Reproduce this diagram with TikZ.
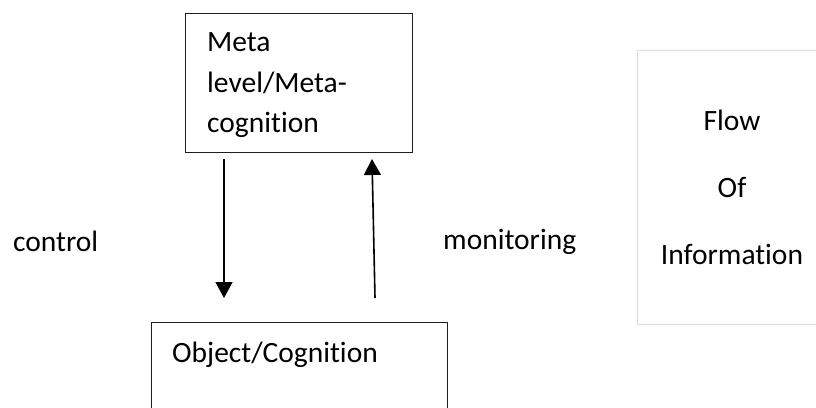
\documentclass[tikz,border=0pt]{standalone}
\usepackage{fontspec}
\setmainfont{Carlito}[Ligatures=NoCommon]
\usetikzlibrary{arrows.meta}
\definecolor{flowedge}{RGB}{212,221,234}
\definecolor{boxedge}{RGB}{30,30,30}
\tikzset{
  box/.style={draw=boxedge, line width=1pt, inner sep=0pt, anchor=north west, fill=none},
  lbl/.style={inner sep=0pt, font=\fontsize{29.5}{35}\selectfont},
  arr/.style={line width=1.6pt, -{Triangle[length=16pt,width=17pt]}}
}
\begin{document}
\begin{tikzpicture}[x=1pt,y=-1pt]
\useasboundingbox (0,0) rectangle (816,407);
\clip (0,0) rectangle (816,407);
% boxes
\node[box, minimum width=227pt, minimum height=139pt] (meta) at (185,13) {};
\node[box, minimum width=296pt, minimum height=130pt] (object) at (151,322) {};
\node[box, draw=flowedge, minimum width=230pt, minimum height=274pt] (flow) at (637,50) {};
% texts
\node[lbl, anchor=base west] (t1) at (207,51) {Meta};
\node[lbl, anchor=base west] (t2) at (207,92) {level/Meta-};
\node[lbl, anchor=base west] (t3) at (207,132) {cognition};
\node[lbl, anchor=base west] (t4) at (172,362) {Object/Cognition};
\node[lbl, anchor=base west] (t5) at (13,251) {control};
\node[lbl, anchor=base west] (t6) at (443,249) {monitoring};
\node[lbl, anchor=base] (t7) at (732,130) {Flow};
\node[lbl, anchor=base] (t8) at (732,197) {Of};
\node[lbl, anchor=base] (t9) at (732,264) {Information};
% connectors
\coordinate (d1) at (224,159);
\coordinate (d2) at (224,298);
\coordinate (u1) at (375,298);
\coordinate (u2) at (372,159);
\draw[arr] (d1) -- (d2);
\draw[arr] (u1) -- (u2);
\end{tikzpicture}
\end{document}
